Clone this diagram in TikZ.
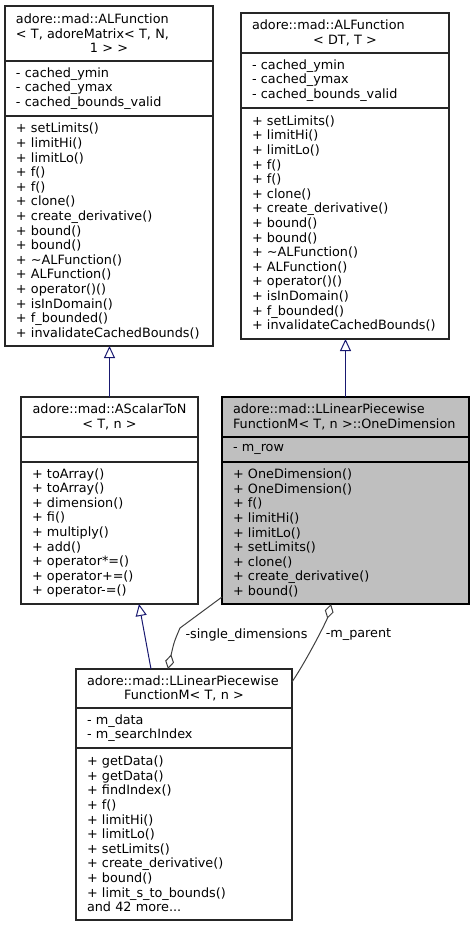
\documentclass[tikz,border=0pt]{standalone}
\usepackage{fontspec}
\setmainfont{DejaVu Sans}
\usetikzlibrary{arrows.meta, positioning, calc}
\definecolor{inhblue}{HTML}{191970}
\definecolor{agggray}{HTML}{404040}
\definecolor{mainfill}{HTML}{BFBFBF}
\newcommand{\ctrline}[1]{\makebox[\hsize][c]{#1}}

\begin{document}
\begin{tikzpicture}[
    x=1pt, y=-1pt,
    font=\fontsize{12.8}{14.6}\selectfont,
    part/.style={
      draw=black!85, line width=1.1pt, rectangle, outer sep=0pt,
      inner xsep=11pt, inner ysep=0pt, align=left, fill=white
    },
    mainpart/.style={part, draw=black, fill=mainfill},
    alfw/.style={minimum width=208pt, text width=186pt},
    scalw/.style={minimum width=177pt, text width=155pt},
    dimw/.style={minimum width=247pt, text width=225pt},
    lpww/.style={minimum width=216pt, text width=194pt},
    inh/.style={draw=inhblue, line width=1pt,
      -{Triangle[fill=white, length=12pt, width=11pt]}},
    aggr/.style={draw=agggray, line width=1pt,
      -{Diamond[fill=white, length=15pt, width=9pt]}},
    lbl/.style={inner sep=0pt},
  ]
    \useasboundingbox (0,0) rectangle (474,927);

    % --- ALFunction< T, adoreMatrix > ---
    \node[part, alfw, minimum height=55pt, anchor=north west] (alfm-t) at (5,6)
      {adore::mad::ALFunction\\< T, adoreMatrix< T, N,\\\ctrline{1 > >}};
    \node[part, alfw, minimum height=55pt, below=0pt of alfm-t] (alfm-a)
      {- cached\_ymin\\- cached\_ymax\\- cached\_bounds\_valid};
    \node[part, alfw, minimum height=230pt, below=0pt of alfm-a] (alfm-m)
      {+ setLimits()\\+ limitHi()\\+ limitLo()\\+ f()\\+ f()\\+ clone()\\
       + create\_derivative()\\+ bound()\\+ bound()\\+ \textasciitilde ALFunction()\\
       + ALFunction()\\+ operator()()\\+ isInDomain()\\+ f\_bounded()\\
       + invalidateCachedBounds()};

    % --- ALFunction< DT, T > ---
    \node[part, alfw, minimum height=40pt, anchor=north west] (alfd-t) at (241,13)
      {adore::mad::ALFunction\\\ctrline{< DT, T >}};
    \node[part, alfw, minimum height=55pt, below=0pt of alfd-t] (alfd-a)
      {- cached\_ymin\\- cached\_ymax\\- cached\_bounds\_valid};
    \node[part, alfw, minimum height=231pt, below=0pt of alfd-a] (alfd-m)
      {+ setLimits()\\+ limitHi()\\+ limitLo()\\+ f()\\+ f()\\+ clone()\\
       + create\_derivative()\\+ bound()\\+ bound()\\+ \textasciitilde ALFunction()\\
       + ALFunction()\\+ operator()()\\+ isInDomain()\\+ f\_bounded()\\
       + invalidateCachedBounds()};

    % --- AScalarToN ---
    \node[part, scalw, minimum height=40pt, anchor=north west] (scal-t) at (21,397)
      {\ctrline{adore::mad::AScalarToN}\\\ctrline{< T, n >}};
    \node[part, scalw, minimum height=25pt, below=0pt of scal-t] (scal-a) {};
    \node[part, scalw, minimum height=142pt, below=0pt of scal-a] (scal-m)
      {+ toArray()\\+ toArray()\\+ dimension()\\+ fi()\\+ multiply()\\+ add()\\
       + operator*=()\\+ operator+=()\\+ operator-=()};

    % --- OneDimension (main class) ---
    \node[mainpart, dimw, minimum height=40pt, anchor=north west] (dim-t) at (222,397)
      {adore::mad::LLinearPiecewise\\FunctionM< T, n >::OneDimension};
    \node[mainpart, dimw, minimum height=25pt, below=0pt of dim-t] (dim-a) {- m\_row};
    \node[mainpart, dimw, minimum height=142pt, below=0pt of dim-a] (dim-m)
      {+ OneDimension()\\+ OneDimension()\\+ f()\\+ limitHi()\\+ limitLo()\\
       + setLimits()\\+ clone()\\+ create\_derivative()\\+ bound()};

    % --- LLinearPiecewiseFunctionM ---
    \node[part, lpww, minimum height=39pt, anchor=north west] (lpw-t) at (76,669)
      {adore::mad::LLinearPiecewise\\\ctrline{FunctionM< T, n >}};
    \node[part, lpww, minimum height=40pt, below=0pt of lpw-t] (lpw-a)
      {- m\_data\\- m\_searchIndex};
    \node[part, lpww, minimum height=172pt, below=0pt of lpw-a] (lpw-m)
      {+ getData()\\+ getData()\\+ findIndex()\\+ f()\\+ limitHi()\\+ limitLo()\\
       + setLimits()\\+ create\_derivative()\\+ bound()\\+ limit\_s\_to\_bounds()\\
       and 42 more...};

    % --- Inheritance ---
    \draw[inh] (scal-t.north) -- (scal-t.north |- alfm-m.south);
    \draw[inh] (dim-t.north) -- (dim-t.north |- alfd-m.south);
    \draw[inh] ([xshift=75pt]lpw-t.north west) -- ([xshift=118pt]scal-m.south west);

    % --- Aggregation ---
    \draw[aggr] ([yshift=7pt]dim-m.south west) -- ++(-42,31)
      .. controls (174,642) .. ([xshift=92pt]lpw-t.north west);
    \draw[aggr] ([yshift=-13pt]lpw-t.north east)
      .. controls (308,658) and (327,620) .. ([xshift=109pt]dim-m.south west);
    \node[lbl] (sd-lbl) at (246.5,635) {-single\_dimensions};
    \node[lbl] (mp-lbl) at (358.5,635) {-m\_parent};
\end{tikzpicture}
\end{document}
